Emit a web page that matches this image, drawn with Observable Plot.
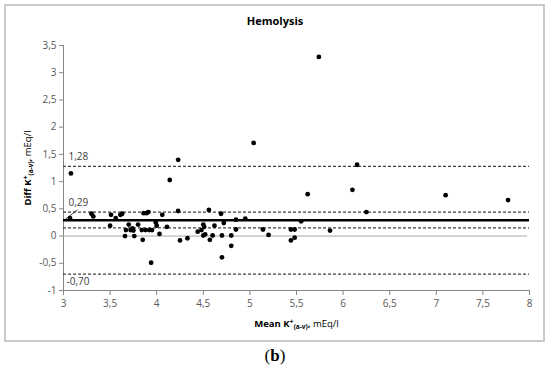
<!DOCTYPE html>
<html><head><meta charset="utf-8">
<script src="https://cdn.jsdelivr.net/npm/d3@7"></script>
<script src="https://cdn.jsdelivr.net/npm/@observablehq/plot@0.6"></script>
<style>
body{margin:0;background:#fff;width:550px;height:370px;position:relative;font-family:"Open Sans",sans-serif;overflow:hidden;}
#frame{position:absolute;left:4px;top:4px;width:537px;height:334px;border:2px solid #cacaca;}
#title{position:absolute;left:0;width:550px;top:14px;text-align:center;font-weight:bold;font-size:11px;line-height:14px;color:#000;}
#chart{position:absolute;left:0;top:0;}
#cap{position:absolute;top:346px;left:0;width:550px;text-align:center;font-family:"Liberation Serif",serif;font-size:17px;line-height:20px;}
</style></head><body>
<div id="frame"></div>
<div id="chart"></div>
<div id="title">Hemolysis</div>
<div id="cap">(<b>b</b>)</div>
<script>
// Mean K+(a-v) (x) and Diff K+(a-v) (y) per sample
const meanK = [3.07,3.08,3.30,3.32,3.50,3.51,3.56,3.61,3.63,3.66,3.67,3.70,3.72,3.74,3.75,3.76,3.80,3.84,3.85,3.86,3.89,3.91,3.88,3.92,3.95,3.94,3.99,4.00,4.03,4.06,4.11,4.14,4.23,4.23,4.25,4.33,4.44,4.48,4.50,4.51,4.50,4.52,4.56,4.57,4.60,4.62,4.69,4.72,4.70,4.70,4.80,4.80,4.85,4.85,4.95,5.04,5.14,5.20,5.44,5.48,5.44,5.48,5.55,5.62,5.74,5.86,6.10,6.15,6.25,7.10,7.77];
const diffK = [0.33,1.15,0.41,0.36,0.19,0.39,0.33,0.39,0.41,0.00,0.11,0.21,0.11,0.14,0.10,0.00,0.21,0.11,-0.07,0.42,0.42,0.44,0.11,0.11,0.11,-0.49,0.25,0.19,0.04,0.39,0.17,1.03,1.40,0.46,-0.08,-0.04,0.08,0.11,0.21,0.17,0.01,0.03,0.48,-0.07,0.01,0.19,0.41,0.24,0.01,-0.39,0.01,-0.18,0.12,0.30,0.32,1.71,0.12,0.02,0.12,0.12,-0.08,-0.03,0.27,0.77,3.29,0.10,0.85,1.31,0.44,0.75,0.66];
// Reference lines
const meanDiff = [0.29];
const limits = [1.28, -0.70];
const ciLines = [0.44, 0.15];
const zeroLine = [0];
const refLabels = ["1,28", "0,29", "-0,70"];
const refLabelY = [1.28, 0.29, -0.70];
const leader = [{x1: 3.02, y1: 0.31, x2: 3.15, y2: 0.48}];
// Ticks
const xTicks = [3,3.5,4,4.5,5,5.5,6,6.5,7,7.5,8];
const yTicks = [-1,-0.5,0,0.5,1,1.5,2,2.5,3,3.5];

const fmt = d => String(d).replace(".", ",");
const points = meanK.map((x, i) => ({x, y: diffK[i]}));
const labelData = refLabels.map((t, i) => ({t, y: refLabelY[i]}));

const chart = Plot.plot({
  width: 550, height: 340,
  marginLeft: 63, marginRight: 21, marginTop: 45, marginBottom: 50,
  style: {fontFamily: "Open Sans", fontSize: "10px", color: "#595959", background: "transparent"},
  x: {domain: [3, 8]},
  y: {domain: [-1, 3.5]},
  marks: [
    Plot.axisX({ticks: xTicks, tickFormat: fmt, tickSize: 5, tickPadding: 4, stroke: "#868686",
      label: "Mean K+(a-v), mEq/l", labelAnchor: "center", labelOffset: 36}),
    Plot.axisY({ticks: yTicks, tickFormat: fmt, tickSize: 4, tickPadding: 3, stroke: "#868686",
      label: "Diff K+(a-v), mEq/l", labelAnchor: "center", labelOffset: 39}),
    Plot.ruleY([-1], {stroke: "#868686"}),
    Plot.ruleX([3], {stroke: "#868686"}),
    Plot.ruleY(zeroLine, {x1: 3, x2: 7.98, stroke: "#a6a6a6", strokeWidth: 1}),
    Plot.ruleY(limits, {x1: 3, x2: 8, stroke: "#404040", strokeWidth: 1.2, strokeDasharray: "3,2"}),
    Plot.ruleY(ciLines, {x1: 3, x2: 8, stroke: "#404040", strokeWidth: 1.2, strokeDasharray: "3,2"}),
    Plot.ruleY(meanDiff, {x1: 3, x2: 8, stroke: "#000", strokeWidth: 2.5}),
    Plot.link(leader, {x1: "x1", y1: "y1", x2: "x2", y2: "y2", stroke: "#333", strokeWidth: 1}),
    Plot.text(labelData.filter(d => d.y > 1), {x: 3, y: "y", text: "t", dx: 5, dy: -10, textAnchor: "start", fill: "#404040", fontSize: 10}),
    Plot.text(labelData.filter(d => d.y > 0 && d.y < 1), {x: 3, y: "y", text: "t", dx: 5, dy: -17, textAnchor: "start", fill: "#404040", fontSize: 10}),
    Plot.text(labelData.filter(d => d.y < 0), {x: 3, y: "y", text: "t", dx: 3, dy: 8, textAnchor: "start", fill: "#404040", fontSize: 10}),
    Plot.dot(points, {x: "x", y: "y", r: 2.4, fill: "#000"})
  ]
});
document.getElementById("chart").appendChild(chart);

function richLabel(sel, lead) {
  sel.text(null).attr("fill", "#000").style("font-size", "9.5px");
  sel.append("tspan").attr("font-weight", "bold").text(lead + " K");
  sel.append("tspan").attr("font-weight", "bold").attr("dy", "-3").style("font-size", "7px").text("+");
  sel.append("tspan").attr("font-weight", "bold").attr("dy", "5").style("font-size", "6.5px").text("(a-v)");
  sel.append("tspan").attr("font-weight", "bold").attr("dy", "-2").text(",");
  sel.append("tspan").text(" mEq/l");
}
const svg = d3.select(chart);
richLabel(svg.selectAll('g[aria-label="x-axis label"] text'), "Mean");
richLabel(svg.selectAll('g[aria-label="y-axis label"] text'), "Diff");
</script>
</body></html>
